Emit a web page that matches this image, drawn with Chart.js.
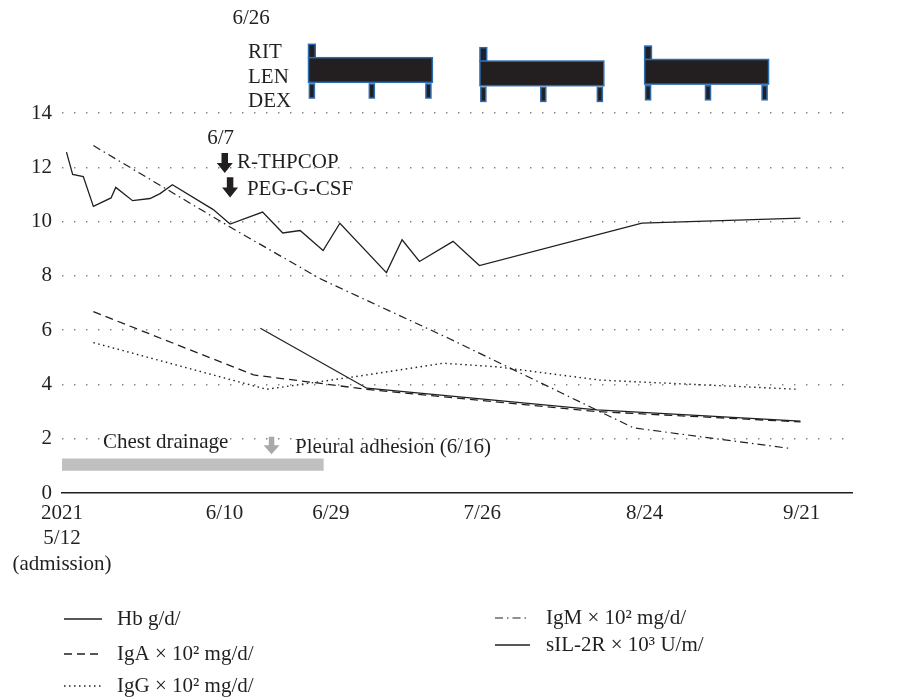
<!DOCTYPE html>
<html>
<head>
<meta charset="utf-8">
<script src="https://cdn.jsdelivr.net/npm/chart.js@4.4.0/dist/chart.umd.min.js"></script>
<style>
  html, body { margin: 0; padding: 0; background: #fff; }
  #wrap { width: 902px; height: 699px; }
</style>
</head>
<body>
<div id="wrap"><canvas id="chart" width="902" height="699"></canvas></div>
<script>
// x = days since admission (2021/5/12)
const tickDays = [0, 29, 48, 75, 104, 132];
const tickLabels = [['2021', '5/12', '(admission)'], '6/10', '6/29', '7/26', '8/24', '9/21'];

// Hb g/dl
const hbDays = [0.8, 1.9, 3.8, 5.6, 8.75, 9.6, 12.6, 15.7, 17.5, 19.7, 27.0, 30.0, 35.8, 39.4, 42.5, 46.6, 49.6, 57.9, 60.7, 63.8, 69.8, 74.5, 103.5, 131.8];
const hbValues = [12.56, 11.74, 11.66, 10.56, 10.87, 11.26, 10.77, 10.85, 11.03, 11.36, 10.44, 9.91, 10.35, 9.58, 9.67, 8.93, 9.94, 8.12, 9.33, 8.53, 9.27, 8.38, 9.94, 10.13];

// IgA x10^2 mg/dl
const igaDays = [5.6, 34.2, 54.4, 95.5, 131.8];
const igaValues = [6.68, 4.35, 3.82, 3.0, 2.62];

// IgG x10^2 mg/dl
const iggDays = [5.6, 36.5, 54.4, 68, 77.6, 96, 131.5];
const iggValues = [5.54, 3.82, 4.35, 4.78, 4.65, 4.16, 3.82];

// IgM x10^2 mg/dl
const igmDays = [5.6, 30, 46, 69, 96, 102, 130];
const igmValues = [12.8, 9.8, 7.9, 5.7, 3.0, 2.4, 1.64];

// sIL-2R x10^3 U/ml
const sil2rDays = [35.4, 54.4, 95.5, 131.8];
const sil2rValues = [6.07, 3.86, 3.06, 2.65];

// chest drainage period
const drainageDays = [-0.4, 46.7];
const drainageLevel = 1.045;

// treatment cycles (RIT / LEN / DEX)
const cycleStartDays = [44.0, 74.6, 104.0];
const lenDuration = 22.1;
const ritDuration = 1.2;
const dexOffsets = [0.6, 11.3, 21.4];

// arrows for R-THPCOP and PEG-G-CSF
const markerDays = [29.05, 30.0];
const markerTop = [12.53, 11.63];
const markerBottom = [11.79, 10.89];
const markerLabels = ['R-THPCOP', 'PEG-G-CSF'];
const markerLabelDays = [31.25, 33.0];
const markerLabelValues = [12.17, 11.17];

const ink = '#231f20';
const serif = '"Liberation Serif", "Times New Roman", serif';

function pts(days, vals) {
  return days.map((d, i) => ({ x: d, y: vals[i] }));
}

function downArrow(ctx, cx, top, bottom, shaftW, headW, headH, color) {
  ctx.fillStyle = color;
  ctx.beginPath();
  ctx.moveTo(cx - shaftW / 2, top);
  ctx.lineTo(cx + shaftW / 2, top);
  ctx.lineTo(cx + shaftW / 2, bottom - headH);
  ctx.lineTo(cx + headW / 2, bottom - headH);
  ctx.lineTo(cx, bottom);
  ctx.lineTo(cx - headW / 2, bottom - headH);
  ctx.lineTo(cx - shaftW / 2, bottom - headH);
  ctx.closePath();
  ctx.fill();
}

const annotations = {
  id: 'annotations',
  afterDatasetsDraw(chart) {
    const { ctx, chartArea, scales: { x, y } } = chart;
    const top = chartArea.top;
    ctx.save();
    ctx.font = '21px ' + serif;
    ctx.fillStyle = ink;
    ctx.textBaseline = 'alphabetic';

    // treatment panel
    ctx.textAlign = 'center';
    ctx.fillText('6/26', x.getPixelForValue(33.75), top - 89);
    ctx.textAlign = 'left';
    const lx = x.getPixelForValue(33.2);
    ctx.fillText('RIT', lx, top - 55);
    ctx.fillText('LEN', lx, top - 30);
    ctx.fillText('DEX', lx, top - 6);

    const shift = [0, 3.4, 1.8];
    cycleStartDays.forEach((start, i) => {
      const s = shift[i];
      ctx.fillStyle = ink;
      ctx.strokeStyle = '#2b6cb0';
      ctx.lineWidth = 1.5;
      // RIT
      const rx0 = x.getPixelForValue(start), rx1 = x.getPixelForValue(start + ritDuration);
      ctx.fillRect(rx0, top - 68.7 + s, rx1 - rx0, 13.4);
      ctx.strokeRect(rx0, top - 68.7 + s, rx1 - rx0, 13.4);
      // LEN
      const lx0 = x.getPixelForValue(start), lx1 = x.getPixelForValue(start + lenDuration);
      ctx.fillRect(lx0, top - 55.3 + s, lx1 - lx0, 24.6);
      ctx.strokeRect(lx0, top - 55.3 + s, lx1 - lx0, 24.6);
      // DEX
      dexOffsets.forEach(o => {
        const cx = x.getPixelForValue(start + o);
        ctx.fillRect(cx - 2.5, top - 29 + s, 5, 14);
        ctx.strokeRect(cx - 2.5, top - 29 + s, 5, 14);
      });
    });

    // regimen arrows
    ctx.fillStyle = ink;
    ctx.textAlign = 'center';
    ctx.fillText('6/7', x.getPixelForValue(28.3), y.getPixelForValue(12.85));
    markerDays.forEach((d, i) => {
      downArrow(ctx, x.getPixelForValue(d), y.getPixelForValue(markerTop[i]),
        y.getPixelForValue(markerBottom[i]), 6.5, 16, 10, ink);
      ctx.fillStyle = ink;
      ctx.textAlign = 'left';
      ctx.textBaseline = 'middle';
      ctx.fillText(markerLabels[i], x.getPixelForValue(markerLabelDays[i]), y.getPixelForValue(markerLabelValues[i]));
      ctx.textBaseline = 'alphabetic';
    });

    // drainage / pleural adhesion
    ctx.fillStyle = ink;
    ctx.textAlign = 'left';
    ctx.fillText('Chest drainage', x.getPixelForValue(7.3), y.getPixelForValue(1.65));
    downArrow(ctx, x.getPixelForValue(37.4), y.getPixelForValue(2.07), y.getPixelForValue(1.43), 5.5, 16, 9, '#a7a9ac');
    ctx.fillStyle = ink;
    ctx.fillText('Pleural adhesion (6/16)', x.getPixelForValue(41.6), y.getPixelForValue(1.46));

    // legend
    const items = [
      { ds: 0, x: 64, y: 619, len: 38 },
      { ds: 1, x: 64, y: 654, len: 38 },
      { ds: 2, x: 64, y: 686, len: 38 },
      { ds: 3, x: 495, y: 618, len: 33 },
      { ds: 4, x: 495, y: 645, len: 35 }
    ];
    items.forEach(it => {
      const ds = chart.data.datasets[it.ds];
      ctx.strokeStyle = ds.borderColor;
      ctx.lineWidth = ds.borderWidth;
      ctx.setLineDash(ds.borderDash || []);
      ctx.beginPath();
      ctx.moveTo(it.x, it.y);
      ctx.lineTo(it.x + it.len, it.y);
      ctx.stroke();
      ctx.setLineDash([]);
      ctx.fillStyle = ink;
      ctx.textAlign = 'left';
      ctx.textBaseline = 'middle';
      ctx.fillText(ds.label, it.x < 300 ? 117 : 546, it.y);
    });
    ctx.restore();
  }
};

new Chart(document.getElementById('chart'), {
  type: 'line',
  data: {
    datasets: [
      { label: 'Hb g/d/', data: pts(hbDays, hbValues), borderColor: ink, borderWidth: 1.3 },
      { label: 'IgA × 10² mg/d/', data: pts(igaDays, igaValues), borderColor: ink, borderWidth: 1.3, borderDash: [8, 5] },
      { label: 'IgG × 10² mg/d/', data: pts(iggDays, iggValues), borderColor: ink, borderWidth: 1.4, borderDash: [1.5, 3.5] },
      { label: 'IgM × 10² mg/d/', data: pts(igmDays, igmValues), borderColor: ink, borderWidth: 1.2, borderDash: [8, 4, 1.5, 4] },
      { label: 'sIL-2R × 10³ U/m/', data: pts(sil2rDays, sil2rValues), borderColor: ink, borderWidth: 1.3 },
      { label: 'Chest drainage', data: pts(drainageDays, [drainageLevel, drainageLevel]), borderColor: '#c0c0c2', borderWidth: 12.4, borderCapStyle: 'butt' }
    ]
  },
  options: {
    responsive: false,
    animation: false,
    events: [],
    elements: { point: { radius: 0 }, line: { tension: 0 } },
    layout: { padding: { top: 113, right: 50, bottom: 0, left: 0 } },
    plugins: { legend: { display: false }, tooltip: { enabled: false } },
    scales: {
      x: {
        type: 'linear',
        min: 0,
        max: 141,
        afterFit: s => { s.height = 206; },
        afterBuildTicks: s => { s.ticks = tickDays.map(v => ({ value: v })); },
        grid: { display: false, drawTicks: false },
        border: { display: true, color: ink, width: 1.5 },
        ticks: {
          autoSkip: false,
          maxRotation: 0,
          padding: 8,
          color: ink,
          font: { family: serif, size: 21, lineHeight: 1.2 },
          callback: (v, i) => tickLabels[i]
        }
      },
      y: {
        min: 0,
        max: 14,
        afterFit: s => { s.width = 62; },
        ticks: { stepSize: 2, padding: 10, color: ink, font: { family: serif, size: 21 } },
        grid: {
          drawTicks: false,
          lineWidth: 1.4,
          color: c => (c.tick && c.tick.value === 0) ? 'rgba(0,0,0,0)' : '#808080'
        },
        border: { display: false, dash: [1.4, 10.6] }
      }
    }
  },
  plugins: [annotations]
});
</script>
</body>
</html>
